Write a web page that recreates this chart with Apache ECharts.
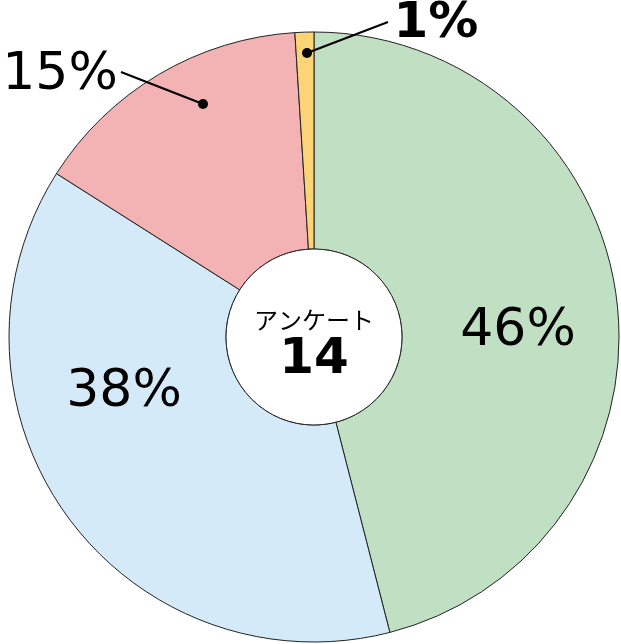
<!DOCTYPE html>
<html><head><meta charset="utf-8">
<script src="https://cdn.jsdelivr.net/npm/echarts@6/dist/echarts.min.js"></script>
<style>html,body{margin:0;padding:0;background:#fff}#c{width:621px;height:644px}</style>
</head><body><div id="c"></div>
<script>
const categories = ['A', 'B', 'C', 'D'];
const values = [46, 38, 15, 1];
const labels = ['46%', '38%', '15%', '1%'];
const centerTitle = 'アンケート';
const centerCount = '14';

const colors = ['#c0dfc3', '#d4eaf8', '#f3b2b3', '#fbd476'];
const labelPos = [[518, 331], [124, 392], [60, 75], [436, 24]];
const labelWeight = ['normal', 'normal', 'normal', 'bold'];
const cx = 314, cy = 337, R = 305, r0 = 88;

const chart = echarts.init(document.getElementById('c'), null, {renderer: 'canvas'});
chart.setOption({
  animation: false,
  series: [{
    type: 'pie',
    center: [cx, cy],
    radius: [r0, R],
    startAngle: 90,
    clockwise: true,
    silent: true,
    itemStyle: {borderColor: '#222', borderWidth: 1},
    label: {
      show: true, position: 'inside', color: '#000',
      fontFamily: 'DejaVu Sans', fontSize: 52,
      formatter: p => labels[p.dataIndex]
    },
    labelLine: {show: false},
    labelLayout: p => ({x: labelPos[p.dataIndex][0], y: labelPos[p.dataIndex][1], align: 'center', verticalAlign: 'middle'}),
    data: categories.map((c, i) => ({
      name: c, value: values[i],
      itemStyle: {color: colors[i]},
      label: {fontWeight: labelWeight[i], fontSize: i === 3 ? 50 : 52}
    }))
  }],
  graphic: [
    {type: 'circle', shape: {cx: cx, cy: cy, r: r0}, style: {fill: '#fff', stroke: '#222', lineWidth: 1}, z: 10},
    {type: 'text', x: cx, y: 320, style: {text: centerTitle, fill: '#000', font: '24px "Noto Sans CJK JP"', align: 'center', verticalAlign: 'middle'}, z: 11},
    {type: 'text', x: cx, y: 360, style: {text: centerCount, fill: '#000', font: 'bold 50px "DejaVu Sans"', align: 'center', verticalAlign: 'middle'}, z: 11},
    {type: 'line', shape: {x1: 121, y1: 72, x2: 203, y2: 104}, style: {stroke: '#000', lineWidth: 2}, z: 12},
    {type: 'circle', shape: {cx: 203, cy: 104, r: 5}, style: {fill: '#000'}, z: 12},
    {type: 'line', shape: {x1: 388, y1: 22, x2: 307, y2: 53}, style: {stroke: '#000', lineWidth: 2}, z: 12},
    {type: 'circle', shape: {cx: 307, cy: 53, r: 5}, style: {fill: '#000'}, z: 12}
  ]
});
</script></body></html>
